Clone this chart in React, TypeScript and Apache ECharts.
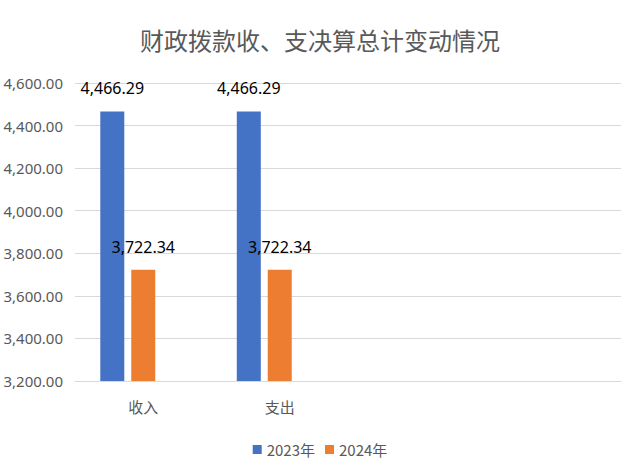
import React, { useEffect, useRef } from "react";
import * as echarts from "echarts";

const categories = ["收入", "支出", "", ""];
const series2023 = [4466.29, 4466.29, null, null];
const series2024 = [3722.34, 3722.34, null, null];
const seriesEmpty = [null, null, null, null];
const yMin = 3200;
const yMax = 4600;
const yInterval = 200;

const fmt = (v: number) =>
  v.toLocaleString("en-US", { minimumFractionDigits: 2, maximumFractionDigits: 2 });

export default function App() {
  const ref = useRef<HTMLDivElement>(null);
  useEffect(() => {
    if (!ref.current) return;
    const chart = echarts.init(ref.current, null, { renderer: "svg" });
    const labelStyle = {
      show: true,
      position: "top" as const,
      distance: 15,
      fontSize: 16,
      color: "#000",
      fontFamily: "Noto Sans",
      formatter: (p: any) => fmt(p.value),
    };
    chart.setOption({
      animation: false,
      backgroundColor: "#fff",
      title: {
        text: "财政拨款收、支决算总计变动情况",
        left: "center",
        top: 22,
        textStyle: {
          fontSize: 24,
          fontWeight: "normal",
          color: "#595959",
          fontFamily: "Noto Sans CJK SC",
        },
      },
      legend: {
        data: ["2023年", "2024年"],
        bottom: 10,
        left: "center",
        itemWidth: 9,
        itemHeight: 9,
        itemGap: 10,
        icon: "rect",
        textStyle: { fontSize: 15, color: "#595959", fontFamily: "Noto Sans CJK SC" },
      },
      grid: { left: 75, right: 19, top: 83, bottom: 91 },
      xAxis: {
        type: "category",
        data: categories,
        axisLine: { lineStyle: { color: "#d9d9d9" } },
        axisTick: { show: false },
        axisLabel: {
          fontSize: 15,
          color: "#595959",
          margin: 18,
          fontFamily: "Noto Sans CJK SC",
        },
      },
      yAxis: {
        type: "value",
        min: yMin,
        max: yMax,
        interval: yInterval,
        axisLine: { show: false },
        axisTick: { show: false },
        splitLine: { lineStyle: { color: "#d9d9d9" } },
        axisLabel: {
          fontSize: 15,
          color: "#595959",
          margin: 12,
          fontFamily: "Noto Sans",
          formatter: (v: number) => fmt(v),
        },
      },
      series: [
        {
          name: "2023年",
          type: "bar",
          data: series2023,
          barWidth: 24,
          barGap: "29%",
          itemStyle: { color: "#4472C4" },
          label: labelStyle,
        },
        {
          name: "2024年",
          type: "bar",
          data: series2024,
          barWidth: 24,
          itemStyle: { color: "#ED7D31" },
          label: labelStyle,
        },
        {
          name: "empty",
          type: "bar",
          data: seriesEmpty,
          barWidth: 24,
          itemStyle: { color: "#A5A5A5" },
        },
      ],
    });
    return () => chart.dispose();
  }, []);
  return (
    <div
      ref={ref}
      style={{ position: "fixed", left: 0, top: 0, width: 640, height: 472 }}
    />
  );
}
